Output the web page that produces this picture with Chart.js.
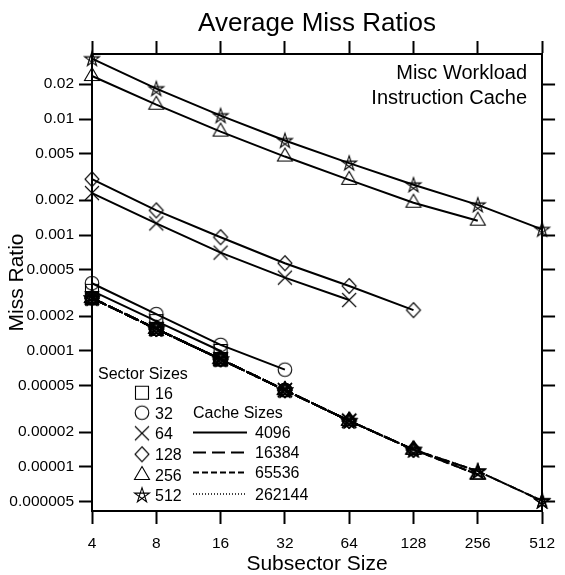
<!DOCTYPE html>
<html>
<head>
<meta charset="utf-8">
<script src="https://cdn.jsdelivr.net/npm/chart.js@4.4.0/dist/chart.umd.min.js"></script>
<style>
  html, body { margin: 0; padding: 0; background: #fff; }
  canvas { display: block; }
</style>
</head>
<body>
<canvas id="chart" width="565" height="575"></canvas>
<script>
// ---- data ----
const subsectorSizes = [4, 8, 16, 32, 64, 128, 256, 512];
const xTickLabels = ['4', '8', '16', '32', '64', '128', '256', '512'];
const sectorSizes = [16, 32, 64, 128, 256, 512];
const cacheSizes = [4096, 16384, 65536, 262144];
const yTickValues = [0.02, 0.01, 0.005, 0.002, 0.001, 0.0005, 0.0002, 0.0001,
                     0.00005, 0.00002, 0.00001, 0.000005];
const yTickLabels = ['0.02', '0.01', '0.005', '0.002', '0.001', '0.0005', '0.0002',
                     '0.0001', '0.00005', '0.00002', '0.00001', '0.000005'];

// 4096-byte cache: one array per sector size, subsector 4 .. sector size
const miss4096Sector16  = [0.00033, 0.000181, 0.0001];
const miss4096Sector32  = [0.000384, 0.000208, 0.000113, 0.000069];
const miss4096Sector64  = [0.0023, 0.00126, 0.000705, 0.000429, 0.000275];
const miss4096Sector128 = [0.00303, 0.00163, 0.000957, 0.000571, 0.000363, 0.000225];
const miss4096Sector256 = [0.0235, 0.0133, 0.0078, 0.00475, 0.00299, 0.0019, 0.00133];
const miss4096Sector512 = [0.0332, 0.0183, 0.0107, 0.00653, 0.00417, 0.00271, 0.00182, 0.00112];

// 16384, 65536 and 262144-byte caches give the same ratios
const missLargeSector16  = [0.000286, 0.000155, 0.000085];
const missLargeSector32  = [0.000286, 0.000155, 0.000085, 0.000046];
const missLargeSector64  = [0.000286, 0.000155, 0.000085, 0.000046, 0.000025];
const missLargeSector128 = [0.000286, 0.000155, 0.000085, 0.000046, 0.000025, 0.0000141];
const missLargeSector256 = [0.000286, 0.000155, 0.000085, 0.000046, 0.000025, 0.0000141, 0.0000086];
const missLargeSector512 = [0.000286, 0.000155, 0.000085, 0.000046, 0.000025, 0.0000141, 0.0000092, 0.0000051];

const miss4096 = [miss4096Sector16, miss4096Sector32, miss4096Sector64,
                  miss4096Sector128, miss4096Sector256, miss4096Sector512];
const missLarge = [missLargeSector16, missLargeSector32, missLargeSector64,
                   missLargeSector128, missLargeSector256, missLargeSector512];

// ---- styles ----
const FONT = '"Liberation Sans", Arial, Helvetica, sans-serif';
const markerKinds = ['square', 'circle', 'cross', 'diamond', 'triangle', 'star'];
const cacheDash = [[], [13, 6], [6, 3], [1, 2]];
const cacheWidth = [2, 2, 2, 1.5];

function makeMarker(kind) {
  const size = 22, c = 11;
  const cv = document.createElement('canvas');
  cv.width = size; cv.height = size;
  const g = cv.getContext('2d');
  g.strokeStyle = '#000';
  g.lineWidth = 1.1;
  g.beginPath();
  switch (kind) {
    case 'square':
      g.rect(c - 6.5, c - 6.5, 13, 13); break;
    case 'circle':
      g.arc(c, c, 6.8, 0, Math.PI * 2); break;
    case 'cross':
      g.moveTo(c - 7, c - 7); g.lineTo(c + 7, c + 7);
      g.moveTo(c + 7, c - 7); g.lineTo(c - 7, c + 7); break;
    case 'diamond':
      g.moveTo(c, c - 7.5); g.lineTo(c + 7, c); g.lineTo(c, c + 7.5); g.lineTo(c - 7, c);
      g.closePath(); break;
    case 'triangle':
      g.moveTo(c, c - 8.5); g.lineTo(c + 7.5, c + 4.5); g.lineTo(c - 7.5, c + 4.5);
      g.closePath(); break;
    case 'star':
      for (let i = 0; i <= 5; i++) {
        const k = (i * 2) % 5;
        const a = -Math.PI / 2 + k * 2 * Math.PI / 5;
        const px = c + 7.8 * Math.cos(a), py = c + 0.5 + 7.8 * Math.sin(a);
        if (i === 0) g.moveTo(px, py); else g.lineTo(px, py);
      }
      g.closePath(); break;
  }
  g.stroke();
  return cv;
}
const markers = markerKinds.map(makeMarker);

// ---- datasets ----
function series(values, sectorIdx, cacheIdx) {
  return {
    label: cacheSizes[cacheIdx] + ' / ' + sectorSizes[sectorIdx],
    data: values.map((v, i) => ({ x: subsectorSizes[i], y: v })),
    borderColor: '#000',
    backgroundColor: 'transparent',
    borderWidth: cacheWidth[cacheIdx],
    borderDash: cacheDash[cacheIdx],
    pointStyle: markers[sectorIdx],
    pointRadius: 7,
    tension: 0,
    clip: false
  };
}
const datasets = [];
miss4096.forEach((vals, s) => datasets.push(series(vals, s, 0)));
for (let c = 1; c < cacheSizes.length; c++) {
  missLarge.forEach((vals, s) => datasets.push(series(vals, s, c)));
}

// ---- axes ----
const tickGrid = { drawOnChartArea: false, drawTicks: true, tickLength: 13, tickWidth: 2, tickColor: '#000' };
const axisBorder = { display: true, color: '#000', width: 2 };
const X_MIN = 4, X_MAX = 512, Y_MIN = 4.17e-6, Y_MAX = 0.0364;

const setXTicks = s => { s.ticks = subsectorSizes.map(v => ({ value: v })); };
const setYTicks = s => { s.ticks = yTickValues.map(v => ({ value: v })); };

// ---- text and key ----
const annotate = {
  id: 'annotate',
  afterDraw(chart) {
    const ctx = chart.ctx;
    const area = chart.chartArea;
    ctx.save();
    ctx.fillStyle = '#000';
    ctx.textBaseline = 'alphabetic';

    ctx.textAlign = 'center';
    ctx.font = '26px ' + FONT;
    ctx.fillText('Average Miss Ratios', (area.left + area.right) / 2, 31);

    ctx.textAlign = 'right';
    ctx.font = '20px ' + FONT;
    ctx.fillText('Misc Workload', 527, 78.5);
    ctx.fillText('Instruction Cache', 527, 103.5);

    // sector sizes key
    ctx.textAlign = 'left';
    ctx.font = '16px ' + FONT;
    ctx.fillText('Sector Sizes', 98, 378.5);
    const markerY = [392.7, 412.7, 433.3, 454.3, 475, 495];
    sectorSizes.forEach((s, i) => {
      const m = markers[i];
      ctx.drawImage(m, 142 - m.width / 2, markerY[i] - m.height / 2);
      ctx.fillText(String(s), 155, markerY[i] + 5.8);
    });

    // cache sizes key
    ctx.fillText('Cache Sizes', 193, 418.3);
    const lineY = [432.5, 452.5, 472.5, 494];
    cacheSizes.forEach((c, i) => {
      ctx.save();
      ctx.strokeStyle = '#000';
      ctx.lineWidth = cacheWidth[i];
      ctx.setLineDash(cacheDash[i]);
      ctx.beginPath();
      ctx.moveTo(193, lineY[i]);
      ctx.lineTo(247, lineY[i]);
      ctx.stroke();
      ctx.restore();
      ctx.fillText(String(c), 255, lineY[i] + 5.8);
    });
    ctx.restore();
  }
};

Chart.defaults.font.family = FONT;
Chart.defaults.color = '#000';

new Chart(document.getElementById('chart'), {
  type: 'line',
  data: { datasets },
  plugins: [annotate],
  options: {
    responsive: false,
    animation: false,
    layout: { padding: 0 },
    plugins: { legend: { display: false }, title: { display: false }, tooltip: { enabled: false } },
    scales: {
      x: {
        type: 'logarithmic', position: 'bottom', min: X_MIN, max: X_MAX,
        afterBuildTicks: setXTicks,
        afterFit: s => { s.height = 64; },
        ticks: {
          autoSkip: false, maxRotation: 0, color: '#000', padding: 10,
          major: { enabled: false },
          font: { size: 15.5 },
          callback: (v, i) => xTickLabels[i]
        },
        grid: tickGrid,
        border: axisBorder,
        title: {
          display: true, text: 'Subsector Size', color: '#000',
          font: { size: 21, lineHeight: 1 }, padding: { top: 0, bottom: 0 }
        }
      },
      x2: {
        type: 'logarithmic', position: 'top', min: X_MIN, max: X_MAX,
        afterBuildTicks: setXTicks,
        afterFit: s => { s.height = 54; },
        ticks: { display: false, major: { enabled: false } },
        grid: tickGrid,
        border: axisBorder
      },
      y: {
        type: 'logarithmic', position: 'left', min: Y_MIN, max: Y_MAX,
        afterBuildTicks: setYTicks,
        afterFit: s => { s.width = 92; },
        ticks: {
          autoSkip: false, color: '#000', padding: 5,
          major: { enabled: false },
          font: { size: 15.5 },
          callback: (v, i) => yTickLabels[i]
        },
        grid: tickGrid,
        border: axisBorder,
        title: {
          display: true, text: 'Miss Ratio', color: '#000',
          font: { size: 21, lineHeight: 1 }, padding: { top: 7, bottom: 0 }
        }
      },
      y2: {
        type: 'logarithmic', position: 'right', min: Y_MIN, max: Y_MAX,
        afterBuildTicks: setYTicks,
        afterFit: s => { s.width = 17; },
        ticks: { display: false, major: { enabled: false } },
        grid: tickGrid,
        border: axisBorder
      }
    }
  }
});
</script>
</body>
</html>
